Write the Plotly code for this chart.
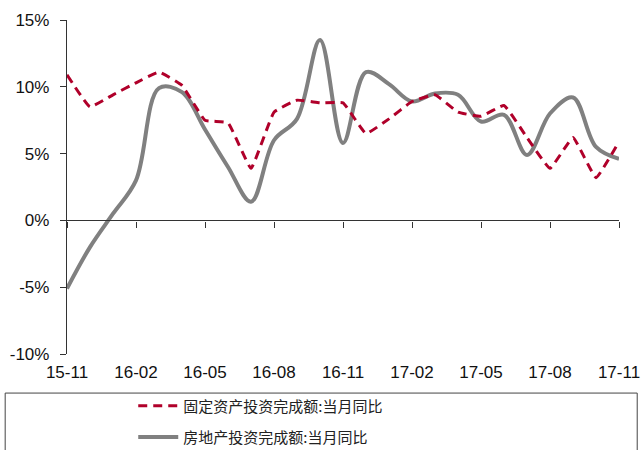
import plotly.graph_objects as go

months = ['15-11', '15-12', '16-01', '16-02', '16-03', '16-04', '16-05', '16-06',
          '16-07', '16-08', '16-09', '16-10', '16-11', '16-12', '17-01', '17-02',
          '17-03', '17-04', '17-05', '17-06', '17-07', '17-08', '17-09', '17-10', '17-11']
fai_yoy = [10.9, 8.5, 9.4, 10.3, 11.1, 10.1, 7.5, 7.3, 3.9, 8.1, 9.0, 8.8, 8.8,
           6.5, 7.6, 8.9, 9.4, 8.1, 7.8, 8.6, 6.2, 3.9, 6.2, 3.2, 5.9]
realestate_yoy = [-5.1, -2.0, 0.5, 3.0, 9.9, 9.6, 6.8, 4.0, 1.4, 6.0, 7.6, 13.5, 5.8,
                  11.1, 10.2, 8.9, 9.5, 9.4, 7.4, 7.9, 4.9, 8.0, 9.2, 5.5, 4.6]
y_ticks = [-10, -5, 0, 5, 10, 15]

idx = list(range(len(months)))
tick_idx = idx[::3]
tick_txt = months[::3]

tick_font = dict(family='Liberation Sans, Arial', size=17, color='#111')
legend_font = dict(family='Noto Sans CJK SC', size=15, color='#222')

fig = go.Figure()

fig.add_trace(go.Scatter(
    x=idx, y=realestate_yoy,
    mode='lines',
    name='房地产投资完成额:当月同比',
    line=dict(color='#808080', width=4, shape='spline', smoothing=1.0),
    legend='legend2'
))
fig.add_trace(go.Scatter(
    x=idx, y=fai_yoy,
    mode='lines',
    name='固定资产投资完成额:当月同比',
    line=dict(color='#b0002a', width=3, dash='9px,6px', shape='spline', smoothing=0.3),
    legend='legend'
))
# empty trace so the zero-crossing axis gets drawn
fig.add_trace(go.Scatter(x=[], y=[], xaxis='x2', showlegend=False, hoverinfo='skip'))

fig.update_layout(
    width=642, height=450,
    margin=dict(l=67, r=23, t=20, b=96, autoexpand=False),
    plot_bgcolor='white',
    paper_bgcolor='white',
    font=dict(family='Liberation Sans', size=16, color='#111'),
    xaxis=dict(
        range=[0, 24],
        tickvals=tick_idx, ticktext=tick_txt, tickangle=0,
        showline=False, showgrid=False, zeroline=False,
        ticks='', ticklabelstandoff=6, ticklabeloverflow='allow',
        tickfont=tick_font, automargin=False
    ),
    xaxis2=dict(
        range=[0, 24], overlaying='x', anchor='free', position=0.4,
        tickvals=tick_idx, showticklabels=False,
        showline=True, linecolor='#333', linewidth=1.3,
        ticks='outside', ticklen=6, tickcolor='#333',
        showgrid=False, zeroline=False, automargin=False
    ),
    yaxis=dict(
        range=[-10, 15],
        tickvals=y_ticks, ticktext=[f'{v}%' for v in y_ticks],
        showline=True, linecolor='#333', linewidth=1.3,
        ticks='outside', ticklen=6, tickcolor='#333',
        showgrid=False, zeroline=False,
        ticklabelstandoff=7,
        tickfont=tick_font, automargin=False
    ),
    legend=dict(
        x=0.12, y=-0.156, xanchor='left', yanchor='middle',
        font=legend_font,
        bgcolor='rgba(0,0,0,0)', itemwidth=40
    ),
    legend2=dict(
        x=0.12, y=-0.249, xanchor='left', yanchor='middle',
        font=legend_font,
        bgcolor='rgba(0,0,0,0)', itemwidth=40
    ),
    shapes=[dict(
        type='rect', xref='paper', yref='paper',
        x0=-0.112, x1=1.033, y0=-0.117, y1=-0.33,
        line=dict(color='#444', width=1), fillcolor='rgba(0,0,0,0)'
    )],
    showlegend=True
)

# drop the page's default body margin so the figure fills the window exactly
fig.write_html("out.html",
               config={'displayModeBar': False},
               post_script="document.body.style.margin='0';document.body.style.overflow='hidden';")
